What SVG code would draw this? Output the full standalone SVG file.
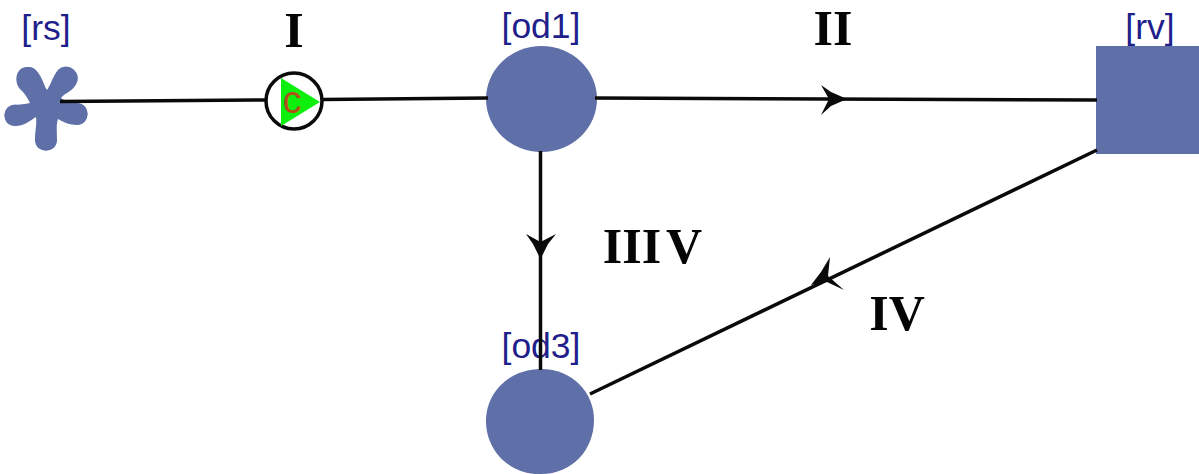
<svg xmlns="http://www.w3.org/2000/svg" width="1199" height="474" viewBox="0 0 1199 474">
<style>
.n{fill:#5f70a8}
.l{font:35.500px "Liberation Sans",Arial,sans-serif;fill:#1f1f8c;text-anchor:middle}
.r{font:bold 50px "Liberation Serif","Times New Roman",serif;fill:#050505;text-anchor:middle}
.c{stroke:#0a0a0a;stroke-width:3.500;fill:none}
.a{fill:#0a0a0a;stroke:none}
</style>
<rect width="1199" height="474" fill="#fff"/>
<g id="rs">
<path class="n" d="M47 90C43 84 40 67 28 67C14 67 14 84 21 90C26 95 28 99 30 103C24 105 15 104 11 106C1 110 3 126 15 126C24 126 30 121 36 117C37 125 35 130 35 140C35 154 57 154 57 140C57 130 56 125 58 119C63 122 70 125 77 125C91 125 91 103 77 103C70 103 66 102 61 98C65 93 71 92 75 86C83 75 73 66 64 67C54 69 52 84 47 90Z"/>
<circle class="n" cx="28" cy="78" r="11"/>
<circle class="n" cx="66" cy="77" r="10.500"/>
<circle class="n" cx="77" cy="114" r="10.500"/>
<circle class="n" cx="46" cy="140" r="10.500"/>
<circle class="n" cx="15" cy="115" r="10.500"/>
<text class="l" x="46" y="40">[rs]</text>
</g>
<g id="pump">
<circle cx="294" cy="101" r="28" fill="#fff" stroke="#0a0a0a" stroke-width="3.500"/>
<path d="M281 78L320 102L281 126Z" fill="#0df00d"/>
<text x="292" y="113" font-family="Liberation Sans, Arial, sans-serif" font-size="38" fill="#b0501a" text-anchor="middle">c</text>
</g>
<g id="od1">
<ellipse class="n" cx="541.500" cy="99" rx="55.500" ry="53"/>
<text class="l" x="541" y="38">[od1]</text>
</g>
<g id="rv">
<rect class="n" x="1096" y="46" width="103" height="108"/>
<text class="l" x="1150" y="39">[rv]</text>
</g>
<g id="od3">
<path class="n" d="M541 369C572 369 594 392 594 420C594 450 572 474 541 474H535C508 472 486 450 486 421C486 392 510 369 541 369Z"/>
<text class="l" x="541" y="358">[od3]</text>
</g>
<g id="connectors">
<path class="c" d="M60 101.500L266 100"/>
<path class="c" d="M322 99.500L488 98"/>
<path class="c" d="M595 98L1097 100"/>
<path class="c" d="M540.500 151V370"/>
<path class="c" d="M1097 150L590 394"/>
<path class="a" d="M847 99L831 92L821 85L829 99L821 115L831 106Z"/>
<path class="a" d="M540.500 259L533 244L526 234L540.500 242L556 234L548 244Z"/>
<path class="a" d="M811 285L821 272L830 257L828 276L844 290L827 282Z"/>
</g>
<g id="labels">
<text class="r" x="294" y="47">I</text>
<text class="r" x="833" y="45">II</text>
<text class="r" x="632" y="263">III</text>
<text class="r" x="684" y="263">V</text>
<text class="r" x="897" y="330">IV</text>
</g>
</svg>
